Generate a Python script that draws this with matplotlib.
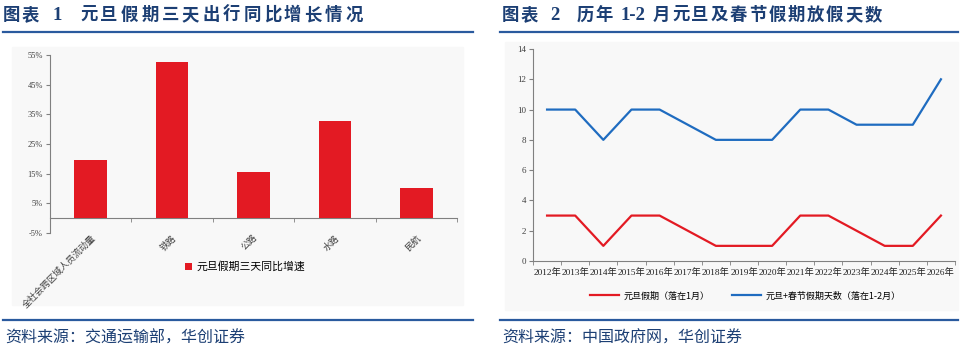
import matplotlib
matplotlib.use("Agg")
import matplotlib.pyplot as plt
from matplotlib.patches import Rectangle
import numpy as np

plt.rcParams['font.family'] = ['Liberation Serif', 'Noto Sans CJK SC', 'DejaVu Sans']

# chart 1 data
modes = ["全社会跨区域人员流动量", "铁路", "公路", "水路", "民航"]
growth = [19.6, 52.7, 15.6, 32.9, 10.3]
growth_ticks = [-5, 5, 15, 25, 35, 45, 55]

# chart 2 data
years = [f"{y}年" for y in range(2012, 2027)]
nyd_days = [3, 3, 1, 3, 3, 2, 1, 1, 1, 3, 3, 2, 1, 1, 3]
total_days = [10, 10, 8, 10, 10, 9, 8, 8, 8, 10, 10, 9, 9, 9, 12]

W, H = 960, 353
NAVY = "#1c3f74"
LINE = "#2a5a9e"
RED = "#e31a23"
BLUE = "#1f6cc0"
CJK = ['Noto Sans CJK SC', 'DejaVu Sans']

fig = plt.figure(figsize=(W / 100, H / 100), dpi=100)
fig.patch.set_facecolor("white")


def px_axes(x0, y0, x1, y1):
    return fig.add_axes([x0 / W, 1 - y1 / H, (x1 - x0) / W, (y1 - y0) / H])


def fx(x):
    return x / W


def fy(y):
    return 1 - y / H


def spaced(x, y, s, pitch, **kw):
    for i, ch in enumerate(s):
        fig.text(fx(x + i * pitch), fy(y), ch, va="center", ha="left", **kw)


# background panels
fig.patches.append(Rectangle((fx(12), fy(305)), fx(463 - 12), (305 - 47) / H,
                             transform=fig.transFigure, color="#f8f8f8", zorder=-5))
fig.patches.append(Rectangle((fx(505), fy(310)), fx(958 - 505), (310 - 42) / H,
                             transform=fig.transFigure, color="#f8f8f8", zorder=-5))

# headers
tkw = dict(family=CJK, fontsize=12.5, fontweight="bold", color=NAVY)
nkw = dict(va="center", ha="left", fontsize=13.5, fontweight="bold", color=NAVY,
           family="Liberation Serif")
spaced(3, 15, "图表", 19.0, **tkw)
fig.text(fx(53), fy(15), "1", **nkw)
spaced(80, 15, "元旦假期三天出行同比增长情况", 20.4, **tkw)

spaced(502, 15, "图表", 19.0, **tkw)
fig.text(fx(550), fy(15), "2", **nkw)
spaced(577, 15, "历年", 18.5, **tkw)
fig.text(fx(620), fy(15), "1-2", **nkw)
spaced(653, 15, "月元旦及春节假期放假天数", 19.2, **tkw)

for (a, b) in [(3, 473), (500, 958)]:
    fig.lines.append(plt.Line2D([fx(a), fx(b)], [fy(32), fy(32)], transform=fig.transFigure,
                                color=LINE, lw=1.6))
    fig.lines.append(plt.Line2D([fx(a), fx(b)], [fy(320), fy(320)], transform=fig.transFigure,
                                color=LINE, lw=1.6))

skw = dict(family=CJK, fontsize=11.5, color=NAVY, va="center", ha="left")
fig.text(fx(5), fy(338), "资料来源：交通运输部，华创证券", **skw)
fig.text(fx(502), fy(338), "资料来源：中国政府网，华创证券", **skw)

# chart 1
ax1 = px_axes(50, 55, 457, 233)
ax1.set_facecolor("none")
x = np.arange(len(modes))
ax1.bar(x, growth, width=0.4, color=RED, label="元旦假期三天同比增速", zorder=3)
ax1.set_xlim(-0.5, len(modes) - 0.5)
ax1.set_ylim(-5, 55)
ax1.set_yticks(growth_ticks)
ax1.set_yticklabels([f"{t}%" for t in growth_ticks], fontsize=6)
for s in ["top", "right"]:
    ax1.spines[s].set_visible(False)
ax1.spines["bottom"].set_position(("data", 0))
ax1.spines["left"].set_color("#808080")
ax1.spines["bottom"].set_color("#808080")
ax1.set_xticks(x)
ax1.set_xticks(np.arange(-0.5, len(modes), 1), minor=True)
ax1.set_xticklabels(modes, rotation=45, ha="right", rotation_mode="anchor", fontsize=6.5,
                    color="#404040")
ax1.tick_params(axis="x", which="major", length=0, pad=11)
ax1.tick_params(axis="x", which="minor", length=3, color="#808080")
ax1.tick_params(axis="y", length=3, color="#808080", labelcolor="#404040", pad=2)
ax1.legend(loc="center", bbox_to_anchor=(fx(245), fy(267)), bbox_transform=fig.transFigure,
           frameon=False, handlelength=0.7, handleheight=0.7, handletextpad=0.4,
           prop={"family": CJK, "size": 7.8})

# chart 2
ax2 = px_axes(533, 49, 955, 261)
ax2.set_facecolor("none")
xi = np.arange(len(years))
ax2.plot(xi, nyd_days, color=RED, lw=1.6, label="元旦假期（落在1月）")
ax2.plot(xi, total_days, color=BLUE, lw=1.6, label="元旦+春节假期天数（落在1-2月）")
ax2.set_xlim(-0.5, len(years) - 0.5)
ax2.set_ylim(0, 14)
ax2.set_yticks(range(0, 15, 2))
ax2.tick_params(axis="y", labelsize=6.5, length=3, color="#808080", labelcolor="#404040", pad=2)
ax2.set_xticks(xi)
ax2.set_xticklabels(years, fontsize=6.7, color="#202020")
ax2.set_xticks(np.arange(-0.5, len(years), 1), minor=True)
ax2.tick_params(axis="x", which="major", length=0, pad=5)
ax2.tick_params(axis="x", which="minor", length=3, color="#808080")
for s in ["top", "right"]:
    ax2.spines[s].set_visible(False)
ax2.spines["left"].set_color("#808080")
ax2.spines["bottom"].set_color("#808080")
ax2.legend(loc="center", bbox_to_anchor=(fx(745), fy(296)), bbox_transform=fig.transFigure,
           frameon=False, ncol=2, handlelength=3.2, columnspacing=2.5, handletextpad=0.5,
           prop={"family": CJK, "size": 6.5})

fig.savefig("out.png", dpi=100)
